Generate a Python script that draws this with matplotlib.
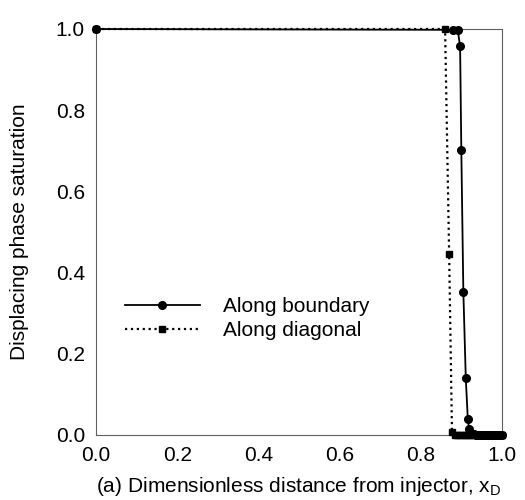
import matplotlib.pyplot as plt

plt.rcParams['font.family'] = ['Liberation Sans', 'DejaVu Sans']
plt.rcParams['mathtext.fontset'] = 'custom'
plt.rcParams['mathtext.rm'] = 'Liberation Sans'

# data
boundary_x = [0.0, 0.880, 0.891, 0.897, 0.900, 0.905, 0.911, 0.916, 0.919,
              0.923, 0.927, 0.931, 0.935, 0.940, 0.945, 0.950, 0.955, 0.960,
              0.965, 0.970, 0.975, 0.980, 0.985, 0.990, 0.995, 1.000]
boundary_y = [1.0, 0.998, 0.998, 0.958, 0.702, 0.353, 0.140, 0.039, 0.015,
              0.006, 0.003, 0.002, 0.001, 0.0, 0.0, 0.0, 0.0, 0.0,
              0.0, 0.0, 0.0, 0.0, 0.0, 0.0, 0.0, 0.0]

diagonal_x = [0.0, 0.860, 0.870, 0.877, 0.884, 0.890, 0.896, 0.902, 0.908,
              0.914, 0.920, 0.926, 0.932, 0.938, 0.944, 0.950, 0.956, 0.962,
              0.968, 0.974, 0.980, 0.986, 0.992, 1.000]
diagonal_y = [1.0, 1.0, 0.446, 0.007, 0.001, 0.0, 0.0, 0.0, 0.0,
              0.0, 0.0, 0.0, 0.0, 0.0, 0.0, 0.0, 0.0, 0.0,
              0.0, 0.0, 0.0, 0.0, 0.0, 0.0]

ticks = [0.0, 0.2, 0.4, 0.6, 0.8, 1.0]
tick_labels = ['0.0', '0.2', '0.4', '0.6', '0.8', '1.0']

fig = plt.figure(figsize=(5.25, 5.0), dpi=100)
ax = fig.add_axes([0.183, 0.13, 0.773, 0.812])

ax.plot(boundary_x, boundary_y, '-', color='black', lw=1.3,
        marker='o', ms=5.5, clip_on=False, label='Along boundary', zorder=3)
ax.plot(diagonal_x, diagonal_y, ':', color='black', lw=1.6,
        marker='s', ms=4.2, clip_on=False, label='Along diagonal', zorder=4)

ax.set_xlim(0, 1)
ax.set_ylim(0, 1)
ax.set_xticks(ticks)
ax.set_xticklabels(tick_labels)
ax.set_yticks(ticks)
ax.set_yticklabels(tick_labels)
ax.tick_params(length=0, pad=8, labelsize=15)

for s in ax.spines.values():
    s.set_color('#606060')
    s.set_linewidth(0.8)

ax.set_xlabel(r'(a) Dimensionless distance from injector, $\mathregular{x_D}$',
              fontsize=15, labelpad=7)
ax.set_ylabel('Displacing phase saturation', fontsize=15, labelpad=19)

ax.legend(loc='center left', bbox_to_anchor=(0.071, 0.286), frameon=False,
          fontsize=15, borderpad=0, borderaxespad=0, handlelength=3.6,
          handletextpad=1.1, labelspacing=0.25)

fig.savefig('out.png', dpi=100)
